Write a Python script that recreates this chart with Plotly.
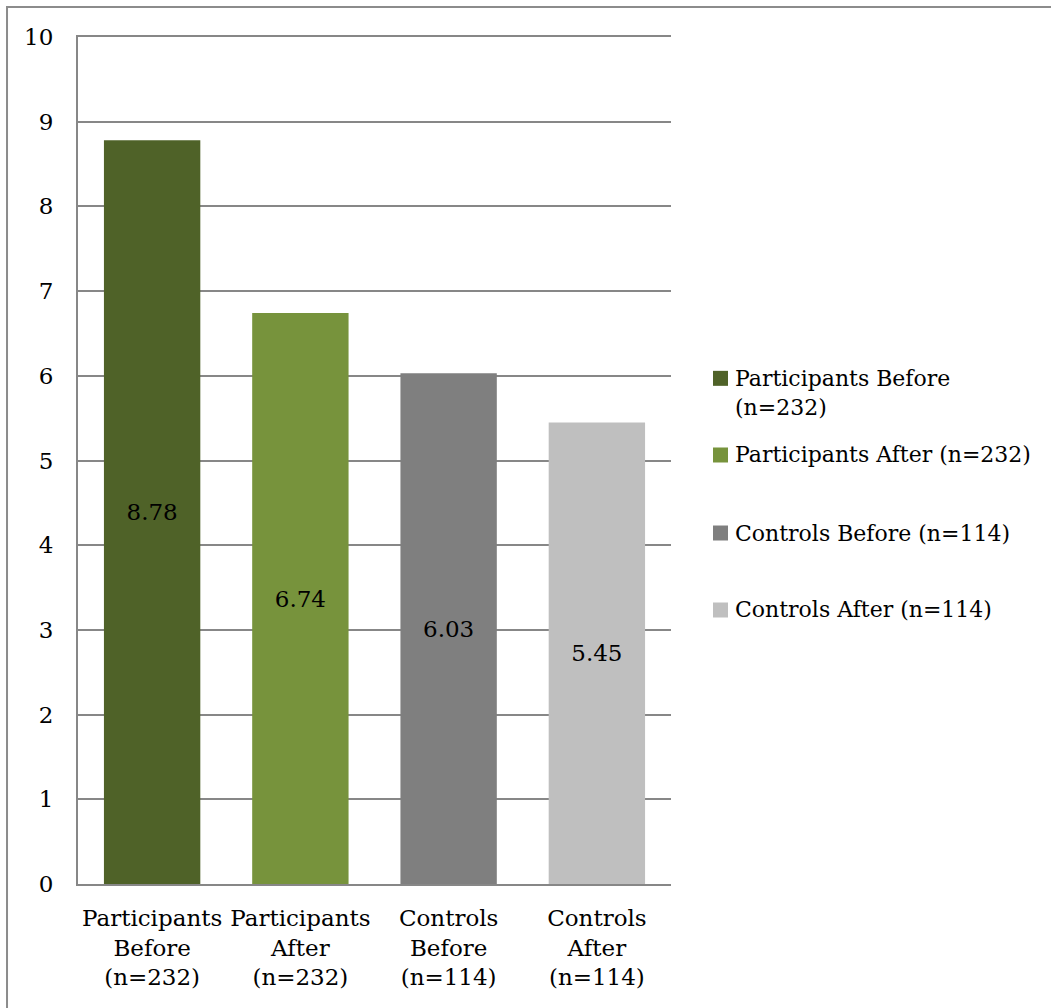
import plotly.graph_objects as go

# Mean scores per group
categories = [
    "Participants<br>Before<br>(n=232)",
    "Participants<br>After<br>(n=232)",
    "Controls<br>Before<br>(n=114)",
    "Controls<br>After<br>(n=114)",
]
series_names = [
    "Participants Before (n=232)",
    "Participants After (n=232)",
    "Controls Before (n=114)",
    "Controls After (n=114)",
]
legend_labels = [
    "Participants Before<br>(n=232)",
    "Participants After (n=232)",
    "Controls Before (n=114)",
    "Controls After (n=114)",
]
values = [8.78, 6.74, 6.03, 5.45]
colors = ["#4f6228", "#77933c", "#7f7f7f", "#bfbfbf"]
y_ticks = [0, 1, 2, 3, 4, 5, 6, 7, 8, 9, 10]

FONT = "DejaVu Serif"
FS = 23
GRID = "#878787"

fig = go.Figure()
for cat, name, val, col in zip(categories, series_names, values, colors):
    fig.add_trace(go.Bar(
        x=[cat], y=[val], name=name,
        marker=dict(color=col, line=dict(width=0)),
        width=0.65,
        text=[f"{val:.2f}"], textposition="inside",
        insidetextanchor="middle", textangle=0,
        textfont=dict(family=FONT, size=FS, color="#000000"),
        constraintext="none",
        showlegend=False,
    ))

# Legend drawn as swatches plus labels, evenly spaced on the right
legend_y = [0.597, 0.5065, 0.4144, 0.3235]
shapes = []
annotations = []
for lbl, col, yy in zip(legend_labels, colors, legend_y):
    shapes.append(dict(
        type="rect", xref="paper", yref="paper",
        xsizemode="pixel", ysizemode="pixel",
        xanchor=1.0835, yanchor=yy,
        x0=-7.5, x1=7.5, y0=-7.5, y1=7.5,
        fillcolor=col, line=dict(width=0),
    ))
    n_lines = lbl.count("<br>") + 1
    annotations.append(dict(
        xref="paper", yref="paper", x=1.1045, y=yy,
        xanchor="left", yanchor="middle", align="left",
        yshift=-(n_lines - 1) * 14.5,
        text=lbl, showarrow=False,
        font=dict(family=FONT, size=22, color="#000000"),
    ))

# Outer chart border
shapes.append(dict(
    type="rect", xref="paper", yref="paper",
    x0=-0.1197, x1=2.0, y0=-1.0, y1=1.0354,
    line=dict(color="#8c8c8c", width=2), fillcolor="rgba(0,0,0,0)",
    layer="below",
))

fig.update_layout(
    width=1051, height=1008,
    margin=dict(l=78, r=380, t=37, b=124),
    paper_bgcolor="white", plot_bgcolor="white",
    font=dict(family=FONT, size=FS, color="#000000"),
    bargap=0.35,
    shapes=shapes,
    annotations=annotations,
    showlegend=False,
)
# mirrored x-axis line doubles as the top gridline at 10
fig.update_xaxes(
    categoryorder="array", categoryarray=categories,
    showline=True, mirror=True, linecolor=GRID, linewidth=2,
    showgrid=False, ticks="", ticklabelstandoff=12,
    tickfont=dict(family=FONT, size=FS, color="#000000"),
)
fig.update_yaxes(
    range=[0, 10], tickmode="array", tickvals=y_ticks,
    ticktext=[str(t) for t in y_ticks],
    showline=True, linecolor=GRID, linewidth=2,
    showgrid=True, gridcolor=GRID, gridwidth=1.6,
    zeroline=False, ticks="", ticklabelstandoff=18,
    tickfont=dict(family=FONT, size=FS, color="#000000"),
)

fig.write_html("out.html")
